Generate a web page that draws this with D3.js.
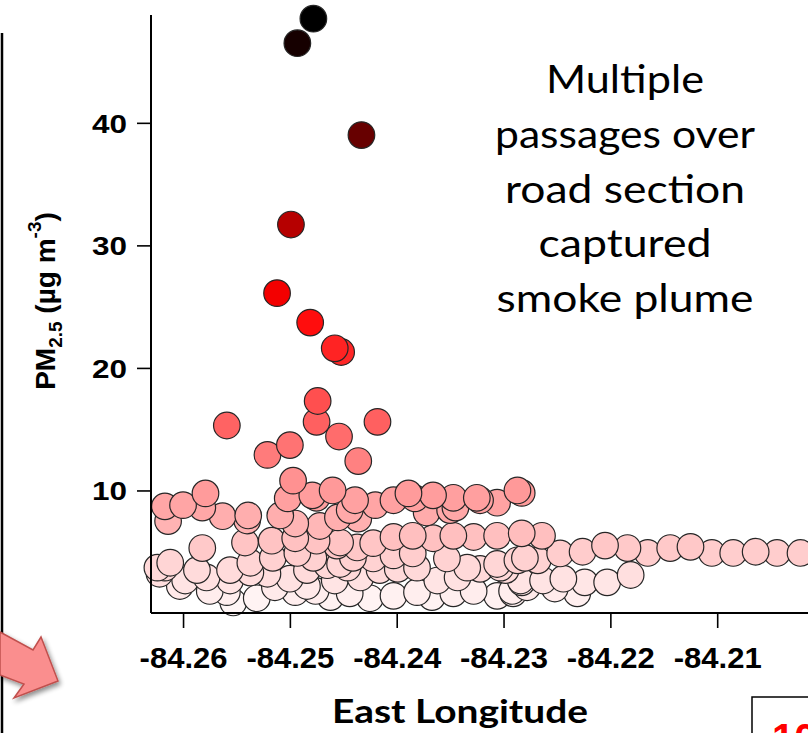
<!DOCTYPE html>
<html>
<head>
<meta charset="utf-8">
<script src="https://cdn.jsdelivr.net/npm/d3@7"></script>
<style>
  html, body { margin: 0; padding: 0; background: #fff; }
  svg { display: block; }
</style>
</head>
<body>
<svg id="chart" width="808" height="733"></svg>
<script>
// ---- data ----
const lonValues = [
  // plume
  -84.2478, -84.2493, -84.2433, -84.2499, -84.2512, -84.2481, -84.2458, -84.2452,
  -84.2474, -84.2559, -84.2418, -84.2475, -84.2454, -84.2500, -84.2521, -84.2436, -84.2497,
  // upper band
  -84.2617, -84.2600, -84.2579, -84.2582, -84.2614, -84.2563, -84.2539, -84.2540,
  -84.2509, -84.2502, -84.2495, -84.2479, -84.2475, -84.2460, -84.2455, -84.2472,
  -84.2444, -84.2439, -84.2436, -84.2420, -84.2403, -84.2389, -84.2383, -84.2372,
  -84.2366, -84.2347, -84.2345, -84.2325, -84.2322, -84.2306, -84.2287, -84.2283, -84.2350,
  // middle band
  -84.2582, -84.2542, -84.2517, -84.2495, -84.2475, -84.2456, -84.2453, -84.2437,
  -84.2422, -84.2403, -84.2385, -84.2366, -84.2347, -84.2328, -84.2306, -84.2283,
  -84.2264, -84.2247, -84.2226, -84.2205, -84.2184, -84.2165, -84.2144, -84.2125,
  -84.2105, -84.2085, -84.2064, -84.2044, -84.2022, -84.2493, -84.2516, -84.2537,
  -84.2478, -84.2453, -84.2441, -84.2422, -84.2403, -84.2385, -84.2353, -84.2280,
  -84.2287, -84.2268,
  // lower cloud
  -84.2612, -84.2617, -84.2622, -84.2624, -84.2598, -84.2578, -84.2556, -84.2556,
  -84.2537, -84.2521, -84.2500, -84.2484, -84.2465, -84.2458, -84.2484, -84.2446,
  -84.2434, -84.2416, -84.2399, -84.2381, -84.2362, -84.2343, -84.2334, -84.2322,
  -84.2306, -84.2298, -84.2284, -84.2303, -84.2283, -84.2263, -84.2244, -84.2224,
  -84.2203, -84.2181, -84.2252, -84.2231, -84.2292,
  // bottom
  -84.2559, -84.2553, -84.2531, -84.2514, -84.2462, -84.2444, -84.2425, -84.2403,
  -84.2381, -84.2367, -84.2347, -84.2328, -84.2306, -84.2291, -84.2278, -84.2575,
  -84.2603, -84.2587, -84.2495, -84.2476
];
const pmValues = [
  // plume
  48.5, 46.5, 39.0, 31.7, 26.1, 23.7, 21.6, 21.3,
  17.3, 15.3, 15.6, 15.6, 14.4, 13.7, 12.9, 12.4, 10.8,
  // upper band
  8.7, 8.8, 9.76, 8.6, 7.5, 7.9, 7.96, 7.55,
  7.96, 9.35, 7.3, 9.6, 9.4, 10.0, 7.8, 7.1,
  8.4, 9.2, 7.7, 8.8, 9.2, 9.76, 9.35, 8.2,
  9.6, 9.4, 8.6, 9.4, 9.2, 9.0, 10.0, 9.8, 8.4,
  // middle band
  5.3, 5.75, 5.9, 6.1, 5.9, 5.5, 5.75, 5.35,
  5.7, 6.2, 6.3, 6.1, 6.3, 6.2, 6.3, 6.5,
  6.3, 4.86, 5.0, 5.5, 5.3, 4.9, 5.3, 5.4,
  4.9, 4.9, 5.0, 4.9, 4.9, 4.9, 4.5, 4.1,
  4.5, 4.0, 4.5, 4.45, 4.7, 4.86, 4.45, 4.5,
  4.3, 4.3,
  // lower cloud
  4.1, 3.7, 3.2, 3.7, 2.65, 2.9, 3.5, 2.65,
  3.3, 3.2, 2.8, 3.5, 3.9, 2.65, 2.2, 3.7,
  2.9, 3.5, 3.6, 3.7, 2.65, 2.9, 3.7, 3.6,
  4.0, 3.5, 2.65, 3.7, 2.5, 2.65, 2.8, 2.5,
  2.5, 3.1, 2.0, 1.6, 1.8,
  // bottom
  1.7, 0.86, 1.2, 2.1, 1.3, 1.6, 1.2, 1.4,
  1.7, 1.3, 1.6, 1.8, 1.4, 1.6, 2.1, 1.8,
  2.2, 3.5, 1.7, 1.8
];
const xTickValues = [-84.26, -84.25, -84.24, -84.23, -84.22, -84.21];
const yTickValues = [10, 20, 30, 40];
const xTitle = "East Longitude";
const noteLines = ["Multiple", "passages over", "road section", "captured", "smoke plume"];
const noteWidths = [158, 260, 240, 173, 257];
const boxLabel = "10";

// ---- layout ----
const svg = d3.select("#chart");
const plotLeft = 151, plotBottom = 613, plotTop = 15, plotRight = 808;

const x = d3.scaleLinear().domain([-84.263, -84.2015]).range([plotLeft, plotRight]);
const y = d3.scaleLinear().domain([0, 48.8]).range([plotBottom, plotTop]);
const color = d3.scaleLinear().domain([0, 25, 48.5]).range(["#ffffff", "#ff0000", "#000000"]);

// drop shadow for the arrow
const defs = svg.append("defs");
const f = defs.append("filter").attr("id", "shadow").attr("x", "-30%").attr("y", "-30%").attr("width", "160%").attr("height", "160%");
f.append("feGaussianBlur").attr("in", "SourceAlpha").attr("stdDeviation", 2.5);
f.append("feOffset").attr("dx", 2).attr("dy", 3).attr("result", "ob");
f.append("feComponentTransfer").append("feFuncA").attr("type", "linear").attr("slope", 0.45);
const fm = f.append("feMerge");
fm.append("feMergeNode");
fm.append("feMergeNode").attr("in", "SourceGraphic");

// left vertical rule
svg.append("line").attr("x1", 2).attr("x2", 2).attr("y1", 33).attr("y2", 733)
  .attr("stroke", "#000").attr("stroke-width", 2.5);

// arrow
svg.append("path")
  .attr("d", "M0,632 L33,650 L41,637 L58,681 L14,698 L24,684 L0,675 Z")
  .attr("fill", "#fa8e8e").attr("stroke", "#c0504d").attr("stroke-width", 1.5)
  .attr("filter", "url(#shadow)");

// points
const pts = lonValues.map((d, i) => ({ lon: d, pm: pmValues[i] }))
  .sort((a, b) => a.pm - b.pm);
const plot = svg.append("g");
plot.selectAll("circle").data(pts).join("circle")
  .attr("cx", d => x(d.lon))
  .attr("cy", d => y(d.pm))
  .attr("r", 13.3)
  .attr("fill", d => color(d.pm))
  .attr("stroke", "#262626")
  .attr("stroke-width", 1.2);

// axes
const xAxis = svg.append("g").attr("transform", `translate(0,${plotBottom})`)
  .call(d3.axisBottom(x).tickValues(xTickValues).tickSize(15).tickSizeOuter(0));
xAxis.select(".domain").attr("stroke-width", 2).attr("d", `M${plotLeft},0H${plotRight}`);
xAxis.selectAll(".tick line").attr("stroke-width", 1.6);
xAxis.selectAll(".tick text")
  .attr("y", 55).attr("dy", null)
  .attr("font-family", "'Liberation Sans', Arial, sans-serif")
  .attr("font-weight", "bold").attr("font-size", 29)
  .attr("textLength", 88).attr("lengthAdjust", "spacingAndGlyphs")
  .attr("fill", "#000")
  .text(d => "-" + Math.abs(d).toFixed(2));

const yAxis = svg.append("g").attr("transform", `translate(${plotLeft},0)`)
  .call(d3.axisLeft(y).tickValues(yTickValues).tickSize(14).tickSizeOuter(0));
yAxis.select(".domain").attr("stroke-width", 2).attr("d", `M0,${plotTop}V${plotBottom}`);
yAxis.selectAll(".tick line").attr("stroke-width", 1.6);
yAxis.selectAll(".tick text")
  .attr("x", -24).attr("dy", "0.36em")
  .attr("font-family", "'Liberation Sans', Arial, sans-serif")
  .attr("font-weight", "bold").attr("font-size", 26)
  .attr("textLength", 35).attr("lengthAdjust", "spacingAndGlyphs")
  .attr("fill", "#000");

// y title
const yt = svg.append("text")
  .attr("transform", "translate(55,301) rotate(-90)")
  .attr("text-anchor", "middle")
  .attr("font-family", "'Liberation Sans', Arial, sans-serif")
  .attr("font-weight", "bold").attr("font-size", 28).attr("fill", "#000");
yt.append("tspan").text("PM");
yt.append("tspan").attr("font-size", 19).attr("dy", 7).text("2.5");
yt.append("tspan").attr("dy", -7).text(" (µg m");
yt.append("tspan").attr("font-size", 19).attr("dy", -14).text("-3");
yt.append("tspan").attr("dy", 14).text(")");

// x title
svg.append("text")
  .attr("x", 460).attr("y", 723)
  .attr("text-anchor", "middle")
  .attr("font-family", "Lato, 'Open Sans', sans-serif")
  .attr("font-weight", "bold").attr("font-size", 33)
  .attr("textLength", 256).attr("lengthAdjust", "spacingAndGlyphs")
  .attr("fill", "#000").text(xTitle);

// annotation
const note = svg.append("g");
noteLines.forEach((t, i) => {
  note.append("text")
    .attr("x", 625).attr("y", 93 + i * 54.8)
    .attr("text-anchor", "middle")
    .attr("font-family", "Lato, 'Open Sans', sans-serif")
    .attr("font-size", 38)
    .attr("textLength", noteWidths[i]).attr("lengthAdjust", "spacingAndGlyphs")
    .attr("fill", "#000").text(t);
});

// clipped red box at bottom right (cut by the picture edge, as in the reference)
svg.append("rect").attr("x", 752).attr("y", 697).attr("width", 80).attr("height", 60)
  .attr("fill", "#fff").attr("stroke", "#000").attr("stroke-width", 1.5);
svg.append("text").attr("x", 772).attr("y", 752)
  .attr("font-family", "'Liberation Sans', Arial, sans-serif")
  .attr("font-weight", "bold").attr("font-size", 40).attr("fill", "#ff0000")
  .text(boxLabel);
</script>
</body>
</html>
